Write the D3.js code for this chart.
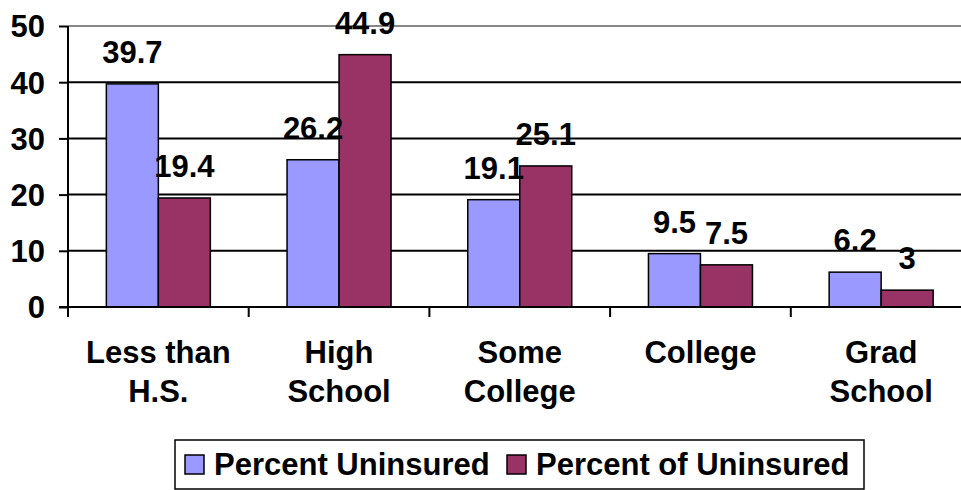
<!DOCTYPE html>
<html><head><meta charset="utf-8">
<script src="https://cdn.jsdelivr.net/npm/d3@7"></script>
<style>body{margin:0;background:#fff}svg{display:block}</style>
</head><body>
<script>
const categories = [["Less than","H.S."],["High","School"],["Some","College"],["College"],["Grad","School"]];
const seriesNames = ["Percent Uninsured","Percent of Uninsured"];
const percentUninsured = [39.7, 26.2, 19.1, 9.5, 6.2];
const percentOfUninsured = [19.4, 44.9, 25.1, 7.5, 3];
const yTicks = [0,10,20,30,40,50];
const colors = ["#9999FF","#993366"];

const W=961,H=490;
const font='"Liberation Sans", Arial, sans-serif';
const svg=d3.select("body").append("svg").attr("width",W).attr("height",H);
const x0=68, plotW=903.5, y0=307, yTop=26;
const x=d3.scaleBand().domain(d3.range(categories.length)).range([x0,x0+plotW]);
const xs=d3.scaleBand().domain([0,1]).range([0,104]);
const y=d3.scaleLinear().domain([0,50]).range([y0,yTop]);

// gridlines
svg.append("g").selectAll("line").data(yTicks.filter(d=>d>0)).join("line")
  .attr("x1",x0).attr("x2",W).attr("y1",d=>y(d)).attr("y2",d=>y(d))
  .attr("stroke",d=>d===50?"#888":"#000").attr("stroke-width",2);

// y axis
const ya=svg.append("g").attr("transform",`translate(${x0},0)`)
  .call(d3.axisLeft(y).tickValues(yTicks).tickSize(9).tickPadding(14));
ya.select(".domain").remove();
ya.selectAll(".tick line").attr("stroke","#000").attr("stroke-width",2);
ya.selectAll("text").attr("font-family",font).attr("font-weight","bold").attr("font-size",31).attr("fill","#000").attr("dy","0.35em");
svg.append("line").attr("x1",x0).attr("x2",x0).attr("y1",yTop).attr("y2",y0+10).attr("stroke","#000").attr("stroke-width",2);

// bars
const data=[percentUninsured,percentOfUninsured];
const groups=svg.append("g");
categories.forEach((c,i)=>{
  const cx=x(i)+x.bandwidth()/2-52;
  data.forEach((s,j)=>{
    groups.append("rect").attr("x",cx+xs(j)).attr("y",y(s[i])).attr("width",xs.bandwidth()).attr("height",y(0)-y(s[i]))
      .attr("fill",colors[j]).attr("stroke","#000").attr("stroke-width",1.5);
  });
});
// x axis
svg.append("line").attr("x1",x0-9).attr("x2",W).attr("y1",y0).attr("y2",y0).attr("stroke","#000").attr("stroke-width",2);
svg.append("g").selectAll("line").data(d3.range(categories.length+1)).join("line")
  .attr("x1",d=>x0+d*x.step()).attr("x2",d=>x0+d*x.step()).attr("y1",y0).attr("y2",y0+10)
  .attr("stroke","#000").attr("stroke-width",2);

// value labels
categories.forEach((c,i)=>{
  const cx=x(i)+x.bandwidth()/2-52;
  data.forEach((s,j)=>{
    svg.append("text").attr("x",cx+xs(j)+xs.bandwidth()/2).attr("y",y(s[i])-21)
      .attr("text-anchor","middle").attr("font-family",font).attr("font-weight","bold").attr("font-size",31).text(s[i]);
  });
});

// category labels
categories.forEach((c,i)=>{
  const t=svg.append("text").attr("text-anchor","middle").attr("font-family",font).attr("font-weight","bold").attr("font-size",31);
  c.forEach((line,k)=>{
    t.append("tspan").attr("x",x(i)+x.bandwidth()/2).attr("y",363+k*39).text(line);
  });
});

// legend
svg.append("rect").attr("x",175).attr("y",440).attr("width",689).attr("height",49).attr("fill","#fff").attr("stroke","#000").attr("stroke-width",1.5);
const lx=[185,507];
seriesNames.forEach((n,j)=>{
  svg.append("rect").attr("x",lx[j]).attr("y",455).attr("width",19).attr("height",19).attr("fill",colors[j]).attr("stroke","#000").attr("stroke-width",1.5);
  svg.append("text").attr("x",lx[j]+29).attr("y",475).attr("font-family",font).attr("font-weight","bold").attr("font-size",31).text(n);
});
</script>
</body></html>
